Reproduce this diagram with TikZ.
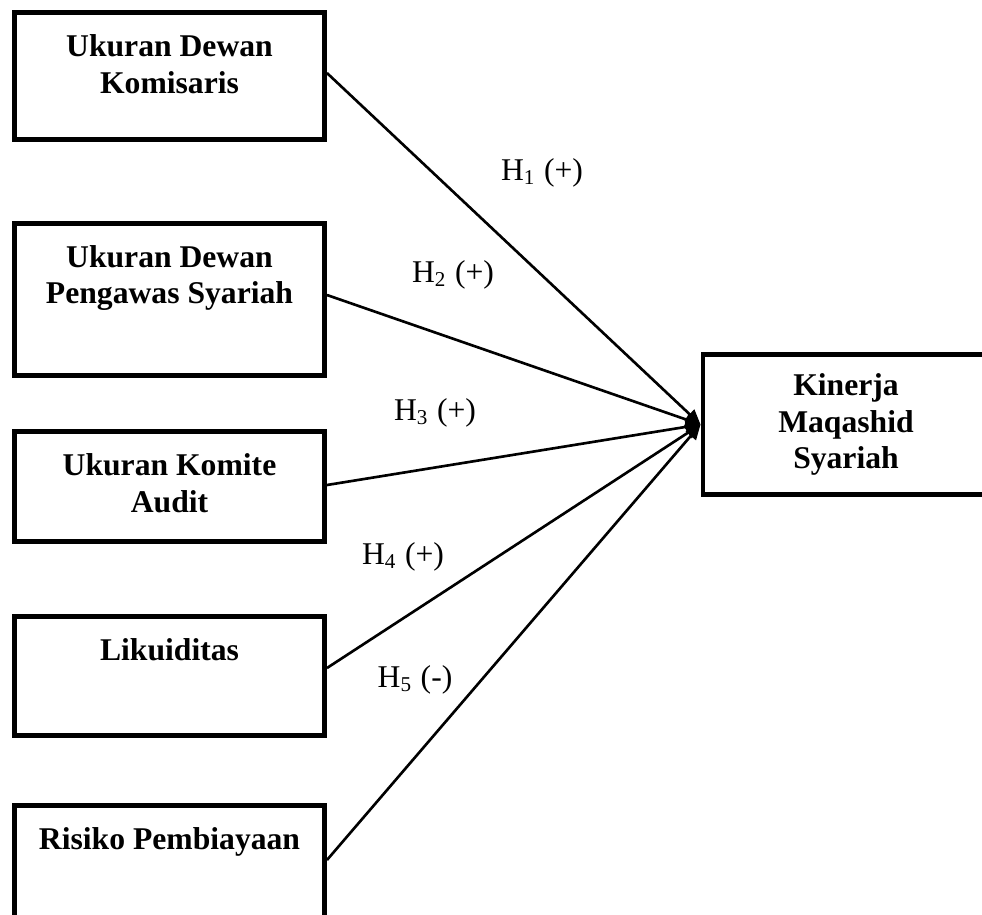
\documentclass[tikz,border=0pt]{standalone}
\usepackage{fontspec}
\setmainfont{Liberation Serif}
\usetikzlibrary{
  positioning,
  arrows.meta
}

\begin{document}
\begin{tikzpicture}[x=0.01cm, y=0.01cm,
    varbox/.style={draw, line width=1.35pt, minimum width=3.10cm, inner sep=0pt},
    vartext/.style={font=\fontsize{9}{10.3}\selectfont\bfseries, align=center, inner sep=0pt},
    hyp/.style={line width=0.75pt, -{Triangle[length=0.15cm, width=0.13cm]}},
    hlabel/.style={font=\fontsize{9}{10.3}\selectfont, inner sep=0pt}]
  \useasboundingbox (0,0) rectangle (982,-914);

  % Independent variables
  \node[varbox, minimum height=1.27cm] (v1) at (169.5,-76) {};
  \node[varbox, minimum height=1.52cm] (v2) at (169.5,-299.5) {};
  \node[varbox, minimum height=1.10cm] (v3) at (169.5,-486.5) {};
  \node[varbox, minimum height=1.19cm] (v4) at (169.5,-676) {};
  \node[varbox, minimum height=1.15cm] (v5) at (169.5,-863) {};

  \node[vartext, below=0.24cm of v1.north] (t1) {Ukuran Dewan\\Komisaris};
  \node[vartext, below=0.24cm of v2.north] (t2) {Ukuran Dewan\\Pengawas Syariah};
  \node[vartext, below=0.24cm of v3.north] (t3) {Ukuran Komite\\Audit};
  \node[vartext, below=0.24cm of v4.north] (t4) {Likuiditas};
  \node[vartext, below=0.24cm of v5.north] (t5) {Risiko Pembiayaan};

  % Dependent variable
  \node[varbox, vartext, minimum width=2.86cm, minimum height=1.40cm] (kms) at (846,-424.5)
    {Kinerja\\Maqashid\\Syariah};

  % Hypotheses
  \foreach \i/\dy in {1/3, 2/4.5, 3/1.5, 4/8, 5/3}
    \draw[hyp] ([yshift=\dy*0.01cm]v\i.east) -- (kms.west);

  \node[hlabel] (h1) at (542,-173) {H\textsubscript{1} (+)};
  \node[hlabel] (h2) at (453,-275) {H\textsubscript{2} (+)};
  \node[hlabel] (h3) at (435,-413) {H\textsubscript{3} (+)};
  \node[hlabel] (h4) at (403,-557) {H\textsubscript{4} (+)};
  \node[hlabel] (h5) at (415,-680) {H\textsubscript{5} (-)};
\end{tikzpicture}
\end{document}
